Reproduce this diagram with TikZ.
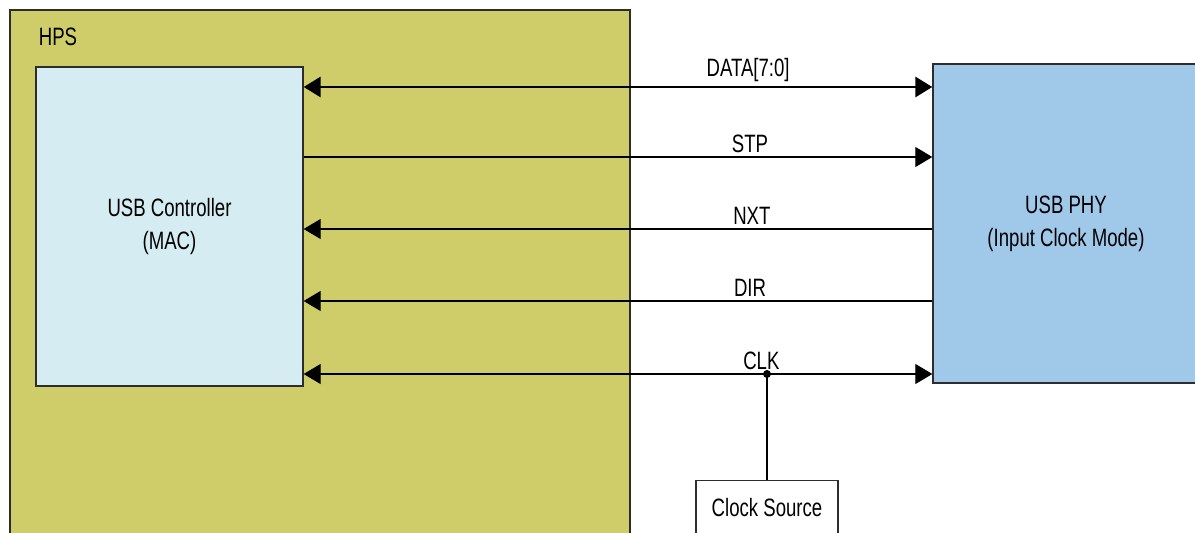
\documentclass[tikz,border=0pt]{standalone}
\usepackage{fontspec}
\setmainfont{Liberation Sans}[FakeStretch=0.74]
\usetikzlibrary{arrows.meta}
\definecolor{hpsfill}{RGB}{206,205,106}
\definecolor{macfill}{RGB}{213,236,243}
\definecolor{phyfill}{RGB}{160,200,233}
\definecolor{edge}{RGB}{45,45,45}
\tikzset{
  >={Triangle[length=0.34cm,width=0.4cm]},
  blk/.style={draw=edge,line width=0.8pt,align=center,inner sep=0pt},
  sig/.style={line width=0.6pt},
  siglbl/.style={anchor=south,inner sep=2pt}
}
\begin{document}
\begin{tikzpicture}[x=0.02cm,y=-0.02cm,font=\fontsize{14.3}{18.7}\selectfont]
                  \clip (0,0) rectangle (1195,533);
                  \node[blk,fill=hpsfill,minimum width=12.4cm,minimum height=10.6cm] (hps) at (320,275) {};
                  \node (hpslbl) at (58,37) {HPS};
                  \node[blk,fill=macfill,minimum width=5.34cm,minimum height=6.38cm] (mac) at (169.5,226.5) {USB Controller\\(MAC)};
                  \node[blk,fill=phyfill,minimum width=5.32cm,minimum height=6.38cm] (phy) at (1066,223.5) {USB PHY\\(Input Clock Mode)};
                  \node[blk,fill=white,minimum width=2.84cm,minimum height=1.1cm] (clksrc) at (767,508) {Clock Source};
                  % data bus
                  \draw[sig,<->,line width=1.7pt] (mac.east |- 0,87) -- (phy.west |- 0,87) node[siglbl,pos=0.707] {DATA[7:0]};
                  \draw[sig,->] (mac.east |- 0,157) -- (phy.west |- 0,157) node[siglbl,pos=0.71] {STP};
                  \draw[sig,<-] (mac.east |- 0,229) -- (phy.west |- 0,229) node[siglbl,pos=0.713] {NXT};
                  \draw[sig,<-] (mac.east |- 0,301) -- (phy.west |- 0,301) node[siglbl,pos=0.71] {DIR};
                  \draw[sig,<->] (mac.east |- 0,374) -- (phy.west |- 0,374) node[siglbl,pos=0.728] {CLK};
                  \coordinate (tap) at (clksrc.north |- 0,374);
                  \fill (tap) circle (4);
                  \draw[sig] (tap) -- (clksrc.north);
              \end{tikzpicture}
\end{document}
